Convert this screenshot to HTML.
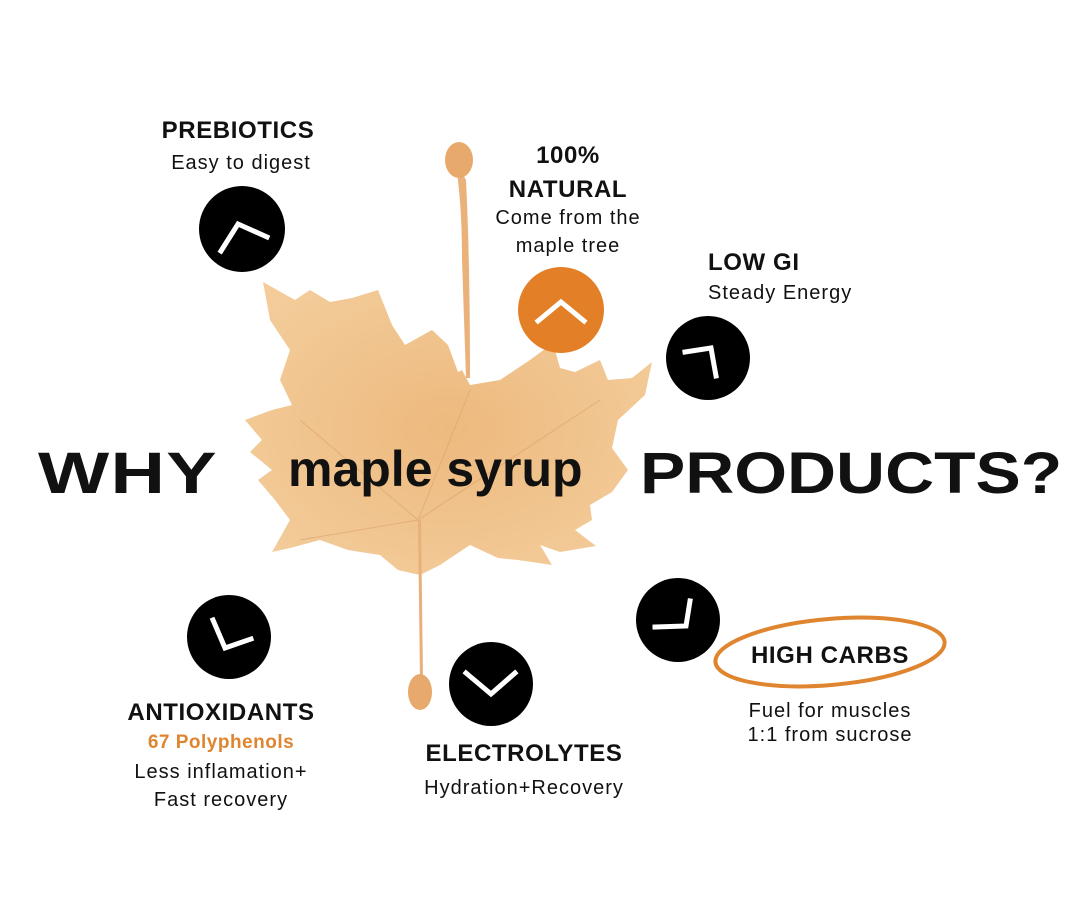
<!DOCTYPE html>
<html><head><meta charset="utf-8"><style>
body{margin:0;width:1080px;height:900px;background:#fff;position:relative;overflow:hidden;font-family:"Liberation Sans",sans-serif;color:#111}
.t{position:absolute;text-align:center;white-space:nowrap}
.h{font-weight:bold;font-size:24px;letter-spacing:0.6px}
.s{font-size:20px;letter-spacing:1px}
</style></head><body>
<svg width="1080" height="900" style="position:absolute;left:0;top:0">
<defs><radialGradient id="g" cx="0.5" cy="0.5" r="0.6"><stop offset="0" stop-color="#edb97e"/><stop offset="1" stop-color="#f3cc9a"/></radialGradient></defs>
<path fill="url(#g)" d="M263,282 L295,300 L310,290 L330,302 L352,298 L378,290 L392,325 L405,345 L432,330 L448,345 L458,372 L462,370 L470,385 L500,380 L530,360 L553,343 L560,368 L575,372 L600,360 L608,380 L632,378 L652,362 L645,395 L618,420 L612,448 L628,470 L612,492 L590,505 L592,520 L575,530 L596,546 L560,552 L540,545 L552,565 L518,560 L498,558 L470,545 L440,565 L420,575 L398,570 L380,555 L348,550 L320,540 L290,548 L272,552 L290,520 L275,500 L258,480 L272,470 L250,452 L262,440 L245,420 L272,410 L292,405 L280,380 L290,350 L270,320 Z"/>
<path d="M455,160 Q462,200 462,260 L466,378 L470,378 Q470,260 466,180 Z" fill="#eab27a"/>
<ellipse cx="459" cy="160" rx="14" ry="18" fill="#e8aa6c"/>
<path d="M418,520 L420,680 L423,680 L421,520 Z" fill="#e9b07a"/>
<ellipse cx="420" cy="692" rx="12" ry="18" fill="#e8aa6c"/>
<g stroke="#dba06a" stroke-width="1" opacity="0.6"><line x1="418" y1="520" x2="300" y2="420"/><line x1="418" y1="520" x2="600" y2="400"/><line x1="418" y1="520" x2="470" y2="390"/><line x1="418" y1="520" x2="300" y2="540"/></g>
<g fill="#000"><circle cx="242" cy="229" r="43"/><circle cx="708" cy="358" r="42"/><circle cx="678" cy="620" r="42"/><circle cx="229" cy="637" r="42"/><circle cx="491" cy="684" r="42"/></g>
<circle cx="561" cy="310" r="43" fill="#e37f26"/>
<g stroke="#fff" stroke-width="5" fill="none" stroke-linecap="square">
<polyline points="221,251 238,224 267,237"/>
<polyline points="538,321 561,302 584,321"/>
<polyline points="685,352 711,348 716,376"/>
<polyline points="655,627 686,626 690,601"/>
<polyline points="213,620 225,648 251,639"/>
<polyline points="466,673 491,694 515,673"/>
</g>
<ellipse cx="830" cy="652" rx="115" ry="33" fill="none" stroke="#e0852f" stroke-width="4" transform="rotate(-5 830 652)"/>
</svg>
<div class="t" style="left:38px;top:440px;font-size:58px;font-weight:900;transform:scaleX(1.3);transform-origin:left;letter-spacing:1px">WHY</div>
<div class="t" style="left:288px;top:440px;font-size:50px;font-weight:bold">maple syrup</div>
<div class="t" style="left:640px;top:440px;font-size:58px;font-weight:900;transform:scaleX(1.17);transform-origin:left">PRODUCTS?</div>
<div class="t h" style="left:138px;top:117px;width:200px">PREBIOTICS</div>
<div class="t s" style="left:141px;top:152px;width:200px">Easy to digest</div>
<div class="t h" style="left:468px;top:139px;width:200px;line-height:34px">100%<br>NATURAL</div>
<div class="t s" style="left:468px;top:204px;width:200px;line-height:28px">Come from the<br>maple tree</div>
<div class="t h" style="left:708px;top:249px">LOW GI</div>
<div class="t s" style="left:708px;top:282px">Steady Energy</div>
<div class="t h" style="left:730px;top:642px;width:200px">HIGH CARBS</div>
<div class="t s" style="left:730px;top:699px;width:200px;line-height:24px">Fuel for muscles<br>1:1 from sucrose</div>
<div class="t h" style="left:121px;top:699px;width:200px">ANTIOXIDANTS</div>
<div class="t" style="left:121px;top:732px;width:200px;font-size:19px;font-weight:bold;color:#e0852f;letter-spacing:0.5px">67 Polyphenols</div>
<div class="t s" style="left:121px;top:758px;width:200px;line-height:28px">Less inflamation+<br>Fast recovery</div>
<div class="t h" style="left:404px;top:740px;width:240px">ELECTROLYTES</div>
<div class="t s" style="left:404px;top:777px;width:240px">Hydration+Recovery</div>
</body></html>
